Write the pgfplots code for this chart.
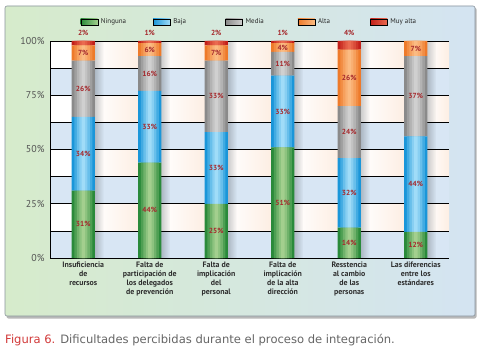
\documentclass[border=0pt]{standalone}
\usepackage{fontspec}
\setmainfont{PT Sans}
\newfontfamily\capfont{DejaVu Sans}
\usepackage{pgfplots}
\usepackage{pgfplotstable}
\pgfplotsset{compat=1.18}
\usetikzlibrary{fadings}
\definecolor{gE}{HTML}{2A8A3A}\definecolor{gM}{HTML}{A3CF8E}
\definecolor{bE}{HTML}{1A96D9}\definecolor{bM}{HTML}{A0DCF8}
\definecolor{mE}{HTML}{8A8A8A}\definecolor{mM}{HTML}{D0D0D0}
\definecolor{aE}{HTML}{EE7A2A}\definecolor{aM}{HTML}{FBBB82}
\definecolor{rE}{HTML}{C2201A}\definecolor{rM}{HTML}{EA6A50}
\definecolor{lab}{HTML}{A5282C}
\definecolor{bandblue}{HTML}{D8E6F4}
\definecolor{peach}{HTML}{FDEEE3}
\definecolor{pgreen}{HTML}{D6EBCB}
\definecolor{pblue}{HTML}{D4E4F2}
\definecolor{capred}{HTML}{D23A3A}
\definecolor{capgray}{HTML}{666666}
\pgfplotstableread{
x n b m a r
0 31 34 26 7 2
1 44 33 16 6 1
2 25 33 33 7 2
3 51 33 11 4 1
4 14 32 24 26 4
5 12 44 37 7 0
}\data
\pgfplotsset{
  base/.style={at={(50bp,93bp)}, anchor=south west, scale only axis,
    width=399bp, height=217bp, xmin=-0.5, xmax=5.5, ymin=0, ymax=100},
  layer/.style={base, hide axis, ybar stacked, bar width=#1},
}
% #1 = mix of middle colour (0..100)
\newcommand\barlayer[1]{%
\addplot[forget plot, draw=none, fill=gM!#1!gE] table[x=x,y=n]{\data};
\addplot[forget plot, draw=none, fill=bM!#1!bE] table[x=x,y=b]{\data};
\addplot[forget plot, draw=none, fill=mM!#1!mE] table[x=x,y=m]{\data};
\addplot[forget plot, draw=none, fill=aM!#1!aE] table[x=x,y=a]{\data};
\addplot[forget plot, draw=none, fill=rM!#1!rE] table[x=x,y=r]{\data};
}
\begin{document}
\begin{tikzpicture}[x=1bp,y=1bp]
\useasboundingbox (0,0) rectangle (480,351);
\fill[white] (0,0) rectangle (480,351);
% panel
\fill[black!28, rounded corners=2bp] (6.5,32.5) rectangle (476.5,343.5);
\shade[left color=pgreen, middle color=white!80!pblue, right color=pblue, rounded corners=2bp] (5,35) rectangle (475,345);
\draw[black!35!pblue, line width=0.6bp, rounded corners=2bp] (5,35) rectangle (475,345);
% plot background bands
\fill[bandblue] (50,93) rectangle (449,310);
\foreach \v in {12.5,37.5,62.5,87.5}{
  \fill[white] (50,{93+\v*2.17}) rectangle (449,{93+(\v+12.5)*2.17});
  \foreach \i in {0,...,5}{
    \shade[left color=white, right color=peach] ({50+(\i+0.5)*66.5+11.6},{93+\v*2.17}) rectangle ({min(449,50+(\i+1.5)*66.5-11.6)},{93+(\v+12.5)*2.17});
  }
}
% bar shadows
\foreach \i in {0,...,5}{
  \fill[black, path fading=east, fill opacity=0.2] ({50+(\i+0.5)*66.5+11.6},93) rectangle ({50+(\i+0.5)*66.5+11.6+9},310);
}
\begin{axis}[
  base,
  ybar stacked, bar width=23.2bp,
  axis x line*=bottom, axis y line*=left,
  axis line style={black, line width=0.9bp},
  ytick={0,25,50,75,100}, minor ytick={12.5,37.5,62.5,87.5},
  ymajorgrids, yminorgrids,
  major grid style={black, line width=0.7bp},
  minor grid style={black, line width=0.7bp},
  ytick style={draw=none}, minor tick length=0pt,
  /pgf/number format/assume math mode=true,
  yticklabel={\pgfmathprintnumber{\tick}\%},
  yticklabel style={font=\fontsize{10}{10}\selectfont, text=black!68, xshift=-2bp},
  xtick={0,...,5},
  xticklabels={{Insuficiencia\\de\\recursos},{Falta de\\participación de\\los delegados\\de prevención},{Falta de\\implicación\\del\\personal},{Falta de\\implicación\\de la alta\\dirección},{Resstencia\\al cambio\\de las\\personas},{Las diferencias\\entre los\\estándares}},
  xticklabel style={align=center, font=\bfseries\fontsize{7.9}{9.2}\selectfont, text=black!82},
  x tick style={draw=none},
  extra x ticks={-0.5,0.5,1.5,2.5,3.5,4.5,5.5},
  extra x tick labels={},
  extra x tick style={tick style={draw=black, line width=0.9bp}, major tick length=3bp, tick align=outside},
  legend columns=5,
  legend style={at={(0.505,1.0876)}, anchor=center, draw=none, fill=none,
    font=\fontsize{7}{7}\selectfont, text=black!85,
    /tikz/every odd column/.append style={column sep=1bp}},
]
\barlayer{0}
\addlegendimage{legend image code/.code={\shade[left color=gE, right color=gM] (0bp,-3bp) rectangle (17bp,3bp);}}
\addlegendentry{\makebox[50bp][l]{Ninguna}}
\addlegendimage{legend image code/.code={\shade[left color=bE, right color=bM] (0bp,-3bp) rectangle (17bp,3bp);}}
\addlegendentry{\makebox[50bp][l]{Baja}}
\addlegendimage{legend image code/.code={\shade[left color=mE, right color=mM] (0bp,-3bp) rectangle (17bp,3bp);}}
\addlegendentry{\makebox[50bp][l]{Media}}
\addlegendimage{legend image code/.code={\shade[left color=aE, right color=aM] (0bp,-3bp) rectangle (17bp,3bp);}}
\addlegendentry{\makebox[50bp][l]{Alta}}
\addlegendimage{legend image code/.code={\shade[left color=rE, right color=rM] (0bp,-3bp) rectangle (17bp,3bp);}}
\addlegendentry{\makebox[30bp][l]{Muy alta}}
\end{axis}
\begin{axis}[layer=18bp]\barlayer{30}\end{axis}
\begin{axis}[layer=13bp]\barlayer{58}\end{axis}
\begin{axis}[layer=8bp]\barlayer{82}\end{axis}
\begin{axis}[layer=3.5bp]\barlayer{100}\end{axis}
\begin{axis}[base, hide axis, clip=false]
\addplot[draw=none, mark=none, nodes near coords={\pgfplotspointmeta\%}, point meta=explicit symbolic,
  every node near coord/.append style={anchor=center, inner sep=0pt, font=\bfseries\fontsize{7.4}{8}\selectfont, text=lab}]
  table[meta=l] {
x y l
0 15.5 31
0 48 34
0 78 26
0 94.5 7
0 103.6 2
1 22 44
1 60.5 33
1 85 16
1 96 6
1 103.6 1
2 12.5 25
2 41.5 33
2 74.5 33
2 94.5 7
2 103.6 2
3 25.5 51
3 67.5 33
3 89.5 11
3 97 4
3 103.6 1
4 7 14
4 30 32
4 58 24
4 83 26
4 103.6 4
5 6 12
5 34 44
5 74.5 37
5 96.5 7
};
\end{axis}
\node[anchor=base west, inner sep=0pt] at (5,8) {\capfont\fontsize{11.6}{13}\selectfont\textcolor{capred}{Figura 6.} \textcolor{capgray}{Dificultades percibidas durante el proceso de integración.}};
\end{tikzpicture}
\end{document}
